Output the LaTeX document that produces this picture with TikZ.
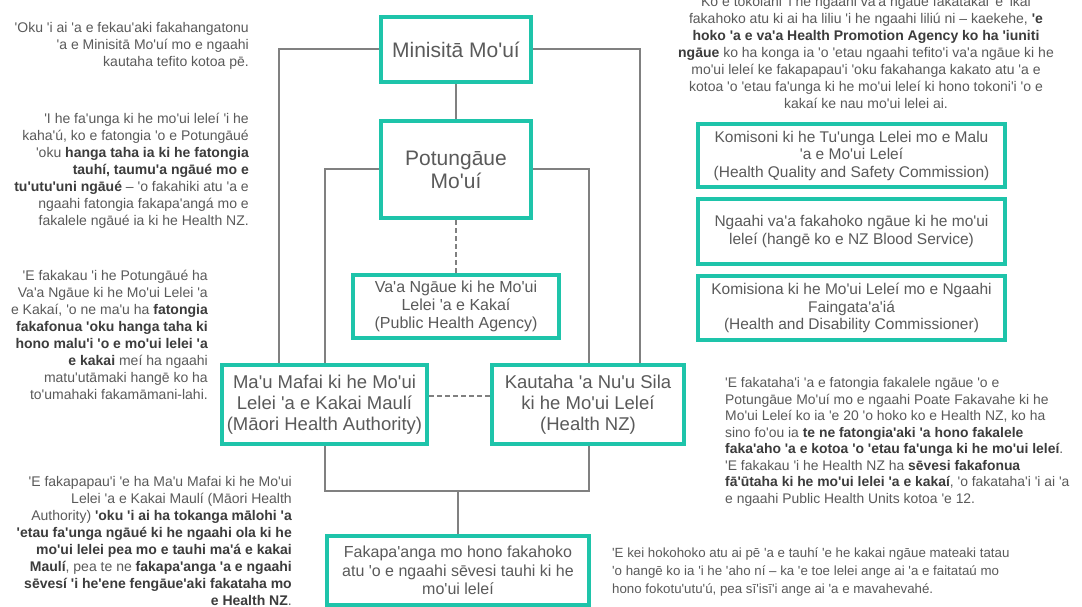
\documentclass[tikz,border=0pt]{standalone}
\usepackage{fontspec}
\setmainfont{Liberation Sans}[Ligatures=TeXOff]
\usetikzlibrary{backgrounds}
\definecolor{teal1}{RGB}{30,196,170}
\definecolor{tgray}{RGB}{90,90,90}
\definecolor{bgray}{RGB}{60,60,60}
\definecolor{lgray}{RGB}{128,128,128}
\newcommand\bt[1]{{\bfseries\color{bgray}#1}}
\tikzset{
  box/.style={draw=teal1, line width=4pt, fill=white, align=center, inner sep=0pt, text=tgray},
  conn/.style={draw=lgray, line width=2pt},
  dconn/.style={conn, dash pattern=on 5pt off 3pt},
  note/.style={inner sep=0pt, text=tgray, font=\fontsize{14}{17}\selectfont},
}
\begin{document}
\begin{tikzpicture}[x=1pt,y=-1pt]
\clip (0,0) rectangle (1082,607);
% boxes
\node[box, minimum width=150, minimum height=65, font=\fontsize{21}{23}\selectfont] (mini) at (456,49.5) {Minisitā Mo'uí};
\node[box, minimum width=150, minimum height=97, font=\fontsize{21}{23}\selectfont] (potu) at (456,169.5) {Potungāue\\Mo'uí};
\node[box, minimum width=206, minimum height=63, font=\fontsize{16}{18.3}\selectfont] (vaa) at (456,306.5) {Va'a Ngāue ki he Mo'ui\\Lelei 'a e Kakaí\\(Public Health Agency)};
\node[box, minimum width=205, minimum height=79, font=\fontsize{18.5}{21}\selectfont] (maori) at (324.5,404.5) {Ma'u Mafai ki he Mo'ui\\Lelei 'a e Kakai Maulí\\(Māori Health Authority)};
\node[box, minimum width=192, minimum height=79, font=\fontsize{18.5}{21}\selectfont] (hnz) at (588,404.5) {Kautaha 'a Nu'u Sila\\ki he Mo'ui Leleí\\(Health NZ)};
\node[box, minimum width=307, minimum height=63, font=\fontsize{15.5}{17.5}\selectfont] (kom1) at (851.5,155.5) {Komisoni ki he Tu'unga Lelei mo e Malu\\'a e Mo'ui Leleí\\(Health Quality and Safety Commission)};
\node[box, minimum width=307, minimum height=65, font=\fontsize{15.5}{18}\selectfont] (kom2) at (851.5,231.5) {Ngaahi va'a fakahoko ngāue ki he mo'ui\\leleí (hangē ko e NZ Blood Service)};
\node[box, minimum width=307, minimum height=64, font=\fontsize{15.5}{17.5}\selectfont] (kom3) at (851.5,308) {Komisiona ki he Mo'ui Leleí mo e Ngaahi\\Faingata'a'iá\\(Health and Disability Commissioner)};
\node[box, minimum width=262, minimum height=69, font=\fontsize{16}{18.3}\selectfont] (faka) at (458,570.5) {Fakapa'anga mo hono fakahoko\\atu 'o e ngaahi sēvesi tauhi ki he\\mo'ui leleí};
% connectors
\begin{scope}[on background layer]
\fill[white] (0,0) rectangle (1082,607);
\draw[conn] (mini.west) -| (279,0 |- maori.north);
\draw[conn] (potu.west) -| (325,0 |- maori.north);
\draw[conn] (mini.east) -| (640,0 |- hnz.north);
\draw[conn] (potu.east) -| (589,0 |- hnz.north);
\draw[conn] (mini.south) -- (potu.north);
\draw[dconn] (potu.south) -- (vaa.north);
\draw[dconn] (maori.east |- 0,396) -- (hnz.west |- 0,396);
\coordinate (j) at (458,491);
\draw[conn] (325,0 |- maori.south) |- (j) -| (589,0 |- hnz.south);
\draw[conn] (j) -- (faka.north);
\end{scope}
% notes
\node[note, anchor=north east, align=right] (n1) at (249,22.5) {'Oku 'i ai 'a e fekau'aki fakahangatonu\\'a e Minisitā Mo'uí mo e ngaahi\\kautaha tefito kotoa pē.};
\node[note, anchor=north east, align=right] (n2) at (249,112.5) {'I he fa'unga ki he mo'ui leleí 'i he\\kaha'ú, ko e fatongia 'o e Potungāué\\'oku \bt{hanga taha ia ki he fatongia}\\\bt{tauhí, taumu'a ngāué mo e}\\\bt{tu'utu'uni ngāué} – 'o fakahiki atu 'a e\\ngaahi fatongia fakapa'angá mo e\\fakalele ngāué ia ki he Health NZ.};
\node[note, anchor=north east, align=right] (n3) at (208,269.5) {'E fakakau 'i he Potungāué ha\\Va'a Ngāue ki he Mo'ui Lelei 'a\\e Kakaí, 'o ne ma'u ha \bt{fatongia}\\\bt{fakafonua 'oku hanga taha ki}\\\bt{hono malu'i 'o e mo'ui lelei 'a}\\\bt{e kakai} meí ha ngaahi\\matu'utāmaki hangē ko ha\\to'umahaki fakamāmani-lahi.};
\node[note, anchor=north east, align=right] (n4) at (292,476.5) {'E fakapapau'i 'e ha Ma'u Mafai ki he Mo'ui\\Lelei 'a e Kakai Maulí (Māori Health\\Authority) \bt{'oku 'i ai ha tokanga mālohi 'a}\\\bt{'etau fa'unga ngāué ki he ngaahi ola ki he}\\\bt{mo'ui lelei pea mo e tauhi ma'á e kakai}\\\bt{Maulí}, pea te ne \bt{fakapa'anga 'a e ngaahi}\\\bt{sēvesí 'i he'ene fengāue'aki fakataha mo}\\\bt{e Health NZ}.};
\node[note, anchor=north, align=center] (n5) at (866,-3.5) {Ko e tokolahi 'i he ngaahi va'a ngāue fakatakai 'e 'ikai\\fakahoko atu ki ai ha liliu 'i he ngaahi liliú ni – kaekehe, \bt{'e}\\\bt{hoko 'a e va'a Health Promotion Agency ko ha 'iuniti}\\\bt{ngāue} ko ha konga ia 'o 'etau ngaahi tefito'i va'a ngāue ki he\\mo'ui leleí ke fakapapau'i 'oku fakahanga kakato atu 'a e\\kotoa 'o 'etau fa'unga ki he mo'ui leleí ki hono tokoni'i 'o e\\kakaí ke nau mo'ui lelei ai.};
\node[note, anchor=north west, align=left, font=\fontsize{13.9}{16.5}\selectfont] (n6) at (725,377.5) {'E fakataha'i 'a e fatongia fakalele ngāue 'o e\\Potungāue Mo'uí mo e ngaahi Poate Fakavahe ki he\\Mo'ui Leleí ko ia 'e 20 'o hoko ko e Health NZ, ko ha\\sino fo'ou ia \bt{te ne fatongia'aki 'a hono fakalele}\\\bt{faka'aho 'a e kotoa 'o 'etau fa'unga ki he mo'ui leleí}.\\'E fakakau 'i he Health NZ ha \bt{sēvesi fakafonua}\\\bt{fā'ūtaha ki he mo'ui lelei 'a e kakaí}, 'o fakataha'i 'i ai 'a\\e ngaahi Public Health Units kotoa 'e 12.};
\node[note, anchor=north west, align=left, font=\fontsize{13.3}{18}\selectfont] (n7) at (612,547.5) {'E kei hokohoko atu ai pē 'a e tauhí 'e he kakai ngāue mateaki tatau\\'o hangē ko ia 'i he 'aho ní – ka 'e toe lelei ange ai 'a e faitataú mo\\hono fokotu'utu'ú, pea sī'isī'i ange ai 'a e mavahevahé.};
\end{tikzpicture}
\end{document}
